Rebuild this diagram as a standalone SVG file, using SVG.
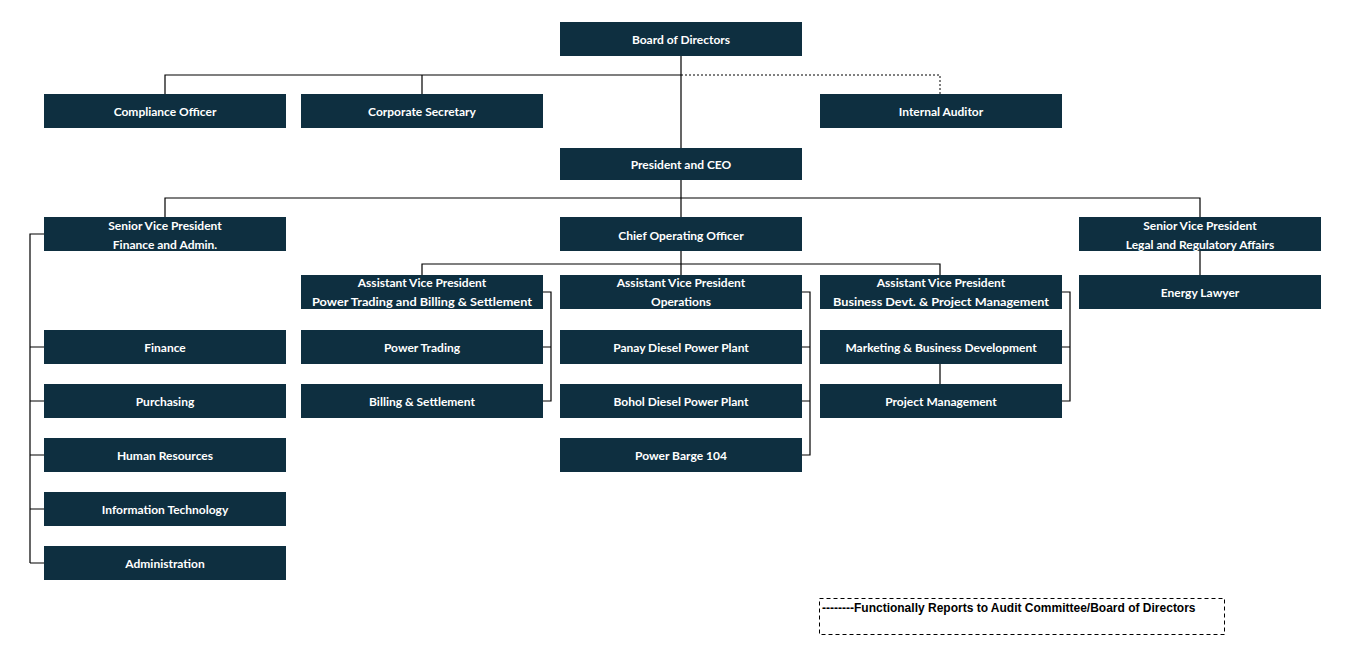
<svg xmlns="http://www.w3.org/2000/svg" width="1346" height="659" viewBox="0 0 1346 659">
<style>
.b{fill:#0e2f40}
.t{fill:#fff;font-family:Lato,"Liberation Sans",sans-serif;font-weight:bold;font-size:12px;text-anchor:middle}
.c{fill:none;stroke:#000;stroke-width:1.2}
.d{fill:none;stroke:#000;stroke-width:1;stroke-dasharray:2,2}
</style>
<rect width="1346" height="659" fill="#fff"/>
<g id="connectors">
<path class="c" d="M681 56V217M165 94V75H681M422 75V94M165 217V198H1200V217M422 275V264H940V275M681 251V275M1200 251V275M940 364V384"/>
<path class="d" d="M681 75H940V94"/>
<path class="c" d="M44 234H30V563M30 347H44M30 401H44M30 455H44M30 509H44M30 563H44"/>
<path class="c" d="M543 292H551V401H543M543 347H551"/>
<path class="c" d="M802 292H810V455H802M802 347H810M802 401H810"/>
<path class="c" d="M1062 292H1070V401H1062M1062 347H1070"/>
</g>
<g id="board"><rect class="b" x="560" y="22" width="242" height="34"/><text class="t" x="681" y="44">Board of Directors</text></g>
<g id="compliance"><rect class="b" x="44" y="94" width="242" height="34"/><text class="t" x="165" y="116">Compliance Officer</text></g>
<g id="corpsec"><rect class="b" x="301" y="94" width="242" height="34"/><text class="t" x="422" y="116">Corporate Secretary</text></g>
<g id="auditor"><rect class="b" x="820" y="94" width="242" height="34"/><text class="t" x="941" y="116">Internal Auditor</text></g>
<g id="ceo"><rect class="b" x="560" y="148" width="242" height="32"/><text class="t" x="681" y="169">President and CEO</text></g>
<g id="svpfin"><rect class="b" x="44" y="217" width="242" height="34"/><text class="t" x="165" y="230">Senior Vice President</text><text class="t" x="165" y="249">Finance and Admin.</text></g>
<g id="coo"><rect class="b" x="560" y="217" width="242" height="34"/><text class="t" x="681" y="240">Chief Operating Officer</text></g>
<g id="svplegal"><rect class="b" x="1079" y="217" width="242" height="34"/><text class="t" x="1200" y="230">Senior Vice President</text><text class="t" x="1200" y="249">Legal and Regulatory Affairs</text></g>
<g id="avppt"><rect class="b" x="301" y="275" width="242" height="34"/><text class="t" x="422" y="287">Assistant Vice President</text><text class="t" x="422" y="306" textLength="220" lengthAdjust="spacingAndGlyphs">Power Trading and Billing &amp; Settlement</text></g>
<g id="avpops"><rect class="b" x="560" y="275" width="242" height="34"/><text class="t" x="681" y="287">Assistant Vice President</text><text class="t" x="681" y="306">Operations</text></g>
<g id="avpbd"><rect class="b" x="820" y="275" width="242" height="34"/><text class="t" x="941" y="287">Assistant Vice President</text><text class="t" x="941" y="306" textLength="216" lengthAdjust="spacingAndGlyphs">Business Devt. &amp; Project Management</text></g>
<g id="lawyer"><rect class="b" x="1079" y="275" width="242" height="34"/><text class="t" x="1200" y="297">Energy Lawyer</text></g>
<g id="finance"><rect class="b" x="44" y="330" width="242" height="34"/><text class="t" x="165" y="352">Finance</text></g>
<g id="purchasing"><rect class="b" x="44" y="384" width="242" height="34"/><text class="t" x="165" y="406">Purchasing</text></g>
<g id="hr"><rect class="b" x="44" y="438" width="242" height="34"/><text class="t" x="165" y="460">Human Resources</text></g>
<g id="it"><rect class="b" x="44" y="492" width="242" height="34"/><text class="t" x="165" y="514">Information Technology</text></g>
<g id="admin"><rect class="b" x="44" y="546" width="242" height="34"/><text class="t" x="165" y="568">Administration</text></g>
<g id="pt"><rect class="b" x="301" y="330" width="242" height="34"/><text class="t" x="422" y="352">Power Trading</text></g>
<g id="bs"><rect class="b" x="301" y="384" width="242" height="34"/><text class="t" x="422" y="406">Billing &amp; Settlement</text></g>
<g id="panay"><rect class="b" x="560" y="330" width="242" height="34"/><text class="t" x="681" y="352">Panay Diesel Power Plant</text></g>
<g id="bohol"><rect class="b" x="560" y="384" width="242" height="34"/><text class="t" x="681" y="406">Bohol Diesel Power Plant</text></g>
<g id="barge"><rect class="b" x="560" y="438" width="242" height="34"/><text class="t" x="681" y="460">Power Barge 104</text></g>
<g id="mbd"><rect class="b" x="820" y="330" width="242" height="34"/><text class="t" x="941" y="352">Marketing &amp; Business Development</text></g>
<g id="pm"><rect class="b" x="820" y="384" width="242" height="34"/><text class="t" x="941" y="406">Project Management</text></g>
<g id="legend"><rect x="819.5" y="598.5" width="405" height="36" fill="none" stroke="#000" stroke-dasharray="4,3"/><text x="822" y="612" font-family="'Liberation Sans',sans-serif" font-weight="bold" font-size="12" fill="#000">--------Functionally Reports to Audit Committee/Board of Directors</text></g>
</svg>
